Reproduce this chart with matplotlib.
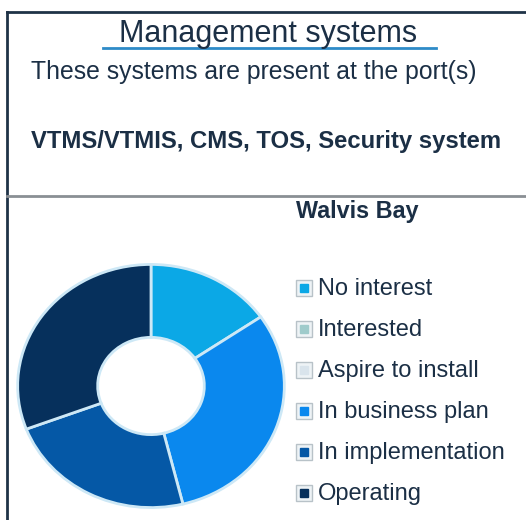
import matplotlib
matplotlib.use("Agg")
import matplotlib.pyplot as plt
from matplotlib.lines import Line2D

# ---- data ----
categories = ["No interest", "Interested", "Aspire to install",
              "In business plan", "In implementation", "Operating"]
counts = [2, 0, 0, 4, 3, 4]
colors = ["#0BA8E6", "#9FCBCB", "#D9E4EC", "#0A88EE", "#0558A6", "#06305C"]
title = "Management systems"
subtitle = "These systems are present at the port(s)"
systems = "VTMS/VTMIS, CMS, TOS, Security system"
port = "Walvis Bay"

W, H = 526, 520
fig = plt.figure(figsize=(W / 100, H / 100), dpi=100)
fig.patch.set_facecolor("white")
plt.rcParams["font.family"] = ["Liberation Sans", "DejaVu Sans"]

def fx(px):
    return px / W

def fy(py):
    return 1 - py / H

txt = "#1B2F45"

# frame lines
fig.add_artist(Line2D([fx(7), 1], [fy(12), fy(12)], color="#1F3347", lw=2))
fig.add_artist(Line2D([fx(7), fx(7)], [fy(12), 0], color="#1F3347", lw=2))
fig.add_artist(Line2D([fx(7), 1], [fy(196), fy(196)], color="#8A8F94", lw=2))

# header texts
fig.text(fx(268), fy(42), title, ha="center", va="baseline", fontsize=22, color=txt)
fig.add_artist(Line2D([fx(103), fx(436)], [fy(48), fy(48)], color="#2E8BC8", lw=2))
fig.text(fx(31), fy(79), subtitle, ha="left", va="baseline", fontsize=17.8, color=txt)
fig.text(fx(31), fy(148), systems, ha="left", va="baseline", fontsize=17.2,
         fontweight="bold", color=txt)
fig.text(fx(357), fy(218), port, ha="center", va="baseline", fontsize=16.8,
         fontweight="bold", color=txt)

# donut
ax = fig.add_axes([fx(15), fy(510), fx(287) - fx(15), (510 - 262) / H])
vals = [v for v in counts if v > 0]
cols = [c for v, c in zip(counts, colors) if v > 0]
ax.pie(vals, colors=cols, startangle=90, counterclock=False, radius=1.0,
       wedgeprops=dict(width=0.6, edgecolor="#CDE8F6", linewidth=2))
ax.set_aspect("auto")
ax.set_xlim(-1.02, 1.02)
ax.set_ylim(-1.02, 1.02)
ax.axis("off")

# legend
for i, (lab, col) in enumerate(zip(categories, colors)):
    base = 295 + i * 41
    yc = base - 7
    fig.add_artist(Line2D([fx(304)], [fy(yc)], marker="s", markersize=11,
                          markerfacecolor="#EEF3F6", markeredgecolor="#B8C2C8",
                          markeredgewidth=1, linestyle="none"))
    fig.add_artist(Line2D([fx(304)], [fy(yc)], marker="s", markersize=5.5,
                          markerfacecolor=col, markeredgecolor=col,
                          linestyle="none"))
    fig.text(fx(318), fy(base), lab, ha="left", va="baseline", fontsize=17, color=txt)

fig.savefig("out.png", dpi=100, facecolor="white")
